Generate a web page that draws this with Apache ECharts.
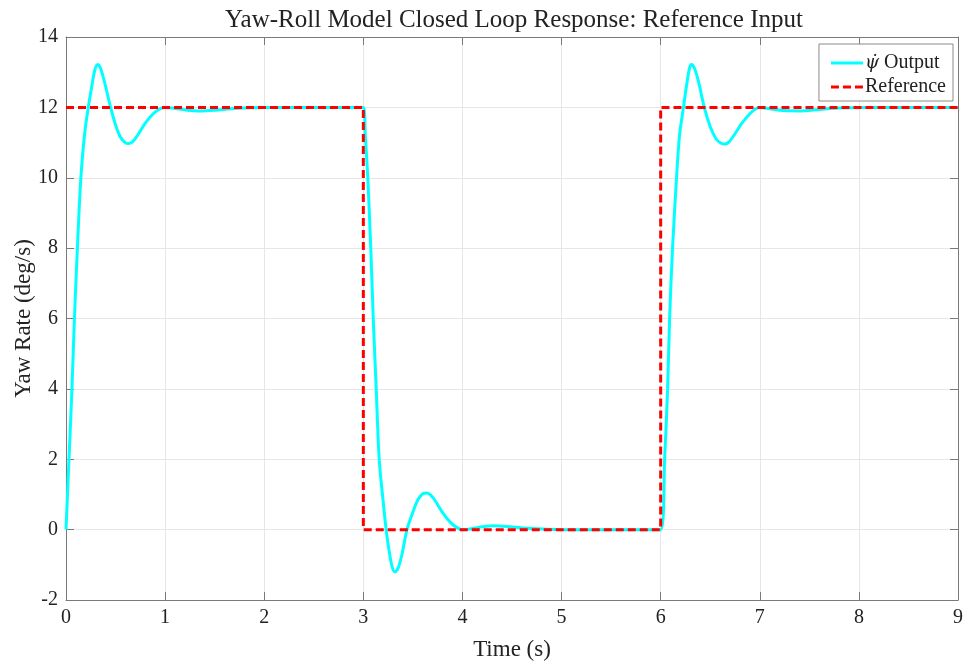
<!DOCTYPE html>
<html>
<head>
<meta charset="utf-8">
<script src="https://cdn.jsdelivr.net/npm/echarts@6/dist/echarts.min.js"></script>
<style>
  html, body { margin: 0; padding: 0; background: #fff; }
  #chart { width: 965px; height: 663px; }
</style>
</head>
<body>
<div id="chart"></div>
<script>
// Closed-loop yaw-rate output, [time (s), yaw rate (deg/s)]
const outputPoints = [
  [0.00, 0], [0.03, 2], [0.06, 4], [0.085, 6], [0.115, 8], [0.15, 10],
  [0.19, 11.3], [0.225, 12.0], [0.26, 12.6], [0.29, 13.05], [0.32, 13.22],
  [0.35, 13.1], [0.39, 12.7], [0.45, 12.0], [0.50, 11.5], [0.55, 11.15],
  [0.60, 10.99], [0.63, 10.97], [0.67, 11.02], [0.72, 11.2], [0.80, 11.55],
  [0.88, 11.82], [0.95, 11.96], [1.00, 12.0], [1.10, 11.97], [1.20, 11.93],
  [1.35, 11.9], [1.50, 11.92], [1.70, 11.97], [2.00, 12.0], [2.50, 12.0],
  [3.00, 12.0], [3.02, 11.2], [3.045, 10], [3.075, 8], [3.10, 6], [3.13, 4],
  [3.16, 2], [3.20, 0.8], [3.23, 0], [3.26, -0.6], [3.29, -1.05], [3.32, -1.2],
  [3.35, -1.1], [3.39, -0.7], [3.44, 0], [3.50, 0.5], [3.55, 0.85], [3.60, 1.02],
  [3.64, 1.04], [3.68, 0.98], [3.73, 0.8], [3.80, 0.48], [3.88, 0.2], [3.95, 0.05],
  [4.00, 0.0], [4.10, 0.03], [4.20, 0.08], [4.31, 0.11], [4.45, 0.09], [4.65, 0.04],
  [5.00, 0.0], [5.50, 0], [6.00, 0], [6.04, 2], [6.07, 4], [6.09, 6], [6.12, 8],
  [6.16, 10], [6.19, 11.2], [6.23, 12], [6.26, 12.6], [6.29, 13.1], [6.31, 13.22],
  [6.34, 13.12], [6.38, 12.75], [6.44, 12.0], [6.50, 11.45], [6.56, 11.1],
  [6.61, 10.98], [6.65, 10.96], [6.69, 11.02], [6.75, 11.25], [6.82, 11.55],
  [6.90, 11.82], [6.96, 11.96], [7.00, 12.0], [7.10, 11.96], [7.25, 11.91],
  [7.41, 11.9], [7.60, 11.94], [7.80, 11.98], [8.10, 12.0], [9.00, 12.0]
];

// Commanded yaw-rate reference (square steps)
const referencePoints = [
  [0, 12], [3, 12], [3, 0], [6, 0], [6, 12], [9, 12]
];

const titleText = 'Yaw-Roll Model Closed Loop Response: Reference Input';
const xLabel = 'Time (s)';
const yLabel = 'Yaw Rate (deg/s)';
const seriesNames = ['output', 'Reference'];

const serif = '"Liberation Serif", "DejaVu Serif", serif';
const axisColor = '#7a7a7a';
const textColor = '#222';

// legend glyphs: a solid bar and a dashed bar
const solidIcon = 'path://M0,0H32V3H0Z';
const dashedIcon = 'path://M0,0H8V3H0Z M12,0H20V3H12Z M24,0H32V3H24Z';

const chart = echarts.init(document.getElementById('chart'), null, { renderer: 'canvas' });

const frameAxis = {
  axisLine: { show: true, onZero: false, lineStyle: { color: axisColor, width: 1 } },
  axisTick: { show: true, inside: true, length: 8, lineStyle: { color: axisColor } },
  axisLabel: { show: false },
  splitLine: { show: false }
};

chart.setOption({
  animation: false,
  backgroundColor: '#fff',
  title: {
    text: titleText,
    left: 509, top: 3, textAlign: 'center',
    textStyle: { fontFamily: serif, fontWeight: 'normal', fontSize: 25, color: textColor }
  },
  grid: { left: 66, right: 7, top: 37, bottom: 63, containLabel: false, outerBoundsMode: 'none' },
  legend: {
    orient: 'vertical',
    right: 12, top: 44,
    backgroundColor: '#fff',
    borderColor: '#8a8a8a', borderWidth: 1, borderRadius: 0,
    padding: [9, 7, 4, 12],
    itemGap: 4,
    itemWidth: 32, itemHeight: 3,
    symbolKeepAspect: false,
    textStyle: {
      fontFamily: serif, fontSize: 20, color: textColor, padding: [0, 0, 0, -3],
      rich: { i: { fontFamily: '"DejaVu Serif", serif', fontStyle: 'italic', fontSize: 18, color: textColor } }
    },
    formatter: function (name) {
      return name === 'output' ? '{i|ψ\u0307} Output' : name;
    },
    data: [
      { name: seriesNames[0], icon: solidIcon, itemStyle: { color: '#00ffff' } },
      { name: seriesNames[1], icon: dashedIcon, itemStyle: { color: '#ff0000' } }
    ]
  },
  xAxis: [
    {
      type: 'value', min: 0, max: 9, interval: 1,
      name: xLabel, nameLocation: 'middle', nameGap: 38,
      nameTextStyle: { fontFamily: serif, fontSize: 23, color: textColor },
      axisLine: { show: true, onZero: false, lineStyle: { color: axisColor } },
      axisTick: { show: true, inside: true, length: 8, lineStyle: { color: axisColor } },
      axisLabel: { fontFamily: serif, fontSize: 20, color: textColor, margin: 8 },
      splitLine: { show: true, lineStyle: { color: '#e6e6e6', width: 1 } }
    },
    Object.assign({ type: 'value', position: 'top', min: 0, max: 9, interval: 1 }, frameAxis)
  ],
  yAxis: [
    {
      type: 'value', min: -2, max: 14, interval: 2,
      name: yLabel, nameLocation: 'middle', nameGap: 31, nameRotate: 90,
      nameMoveOverlap: false,
      nameTextStyle: { fontFamily: serif, fontSize: 23, color: textColor },
      axisLine: { show: true, onZero: false, lineStyle: { color: axisColor } },
      axisTick: { show: true, inside: true, length: 8, lineStyle: { color: axisColor } },
      axisLabel: { fontFamily: serif, fontSize: 20, color: textColor, margin: 8 },
      splitLine: { show: true, lineStyle: { color: '#e6e6e6', width: 1 } }
    },
    Object.assign({ type: 'value', position: 'right', min: -2, max: 14, interval: 2 }, frameAxis)
  ],
  series: [
    {
      name: 'output',
      type: 'line',
      data: outputPoints,
      smooth: 0.3,
      symbol: 'none',
      lineStyle: { color: '#00ffff', width: 3 },
      itemStyle: { color: '#00ffff' },
      z: 2
    },
    {
      name: 'Reference',
      type: 'line',
      data: referencePoints,
      symbol: 'none',
      lineStyle: { color: '#ff0000', width: 3, type: [8, 4] },
      itemStyle: { color: '#ff0000' },
      z: 3
    }
  ]
});
</script>
</body>
</html>
